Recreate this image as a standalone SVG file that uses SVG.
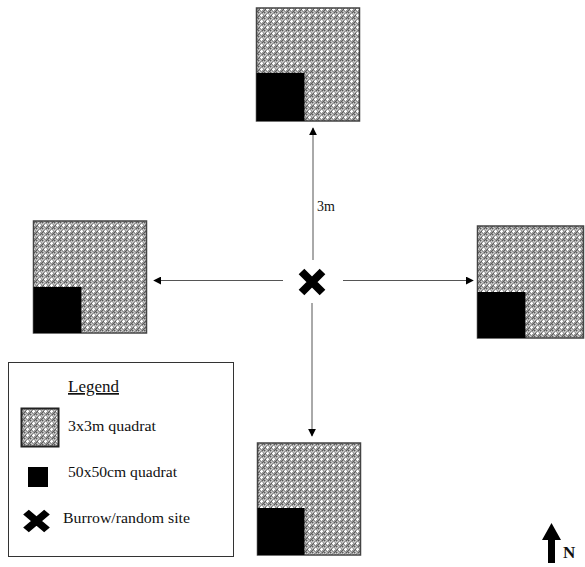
<svg xmlns="http://www.w3.org/2000/svg" width="585" height="567" viewBox="0 0 585 567">
<defs>
<pattern id="dots" width="6" height="6" patternUnits="userSpaceOnUse">
<rect width="6" height="6" fill="#9a9a9a"/>
<rect x="0" y="0" width="1" height="1" fill="#5c5c5c"/>
<rect x="2" y="0" width="1" height="1" fill="#d0d0d0"/>
<rect x="4" y="0" width="1" height="1" fill="#5c5c5c"/>
<rect x="1" y="1" width="1" height="1" fill="#d0d0d0"/>
<rect x="5" y="1" width="1" height="1" fill="#d0d0d0"/>
<rect x="0" y="2" width="1" height="1" fill="#d0d0d0"/>
<rect x="4" y="2" width="1" height="1" fill="#d0d0d0"/>
<rect x="2" y="3" width="3" height="1" fill="#ffffff"/>
<rect x="3" y="2" width="1" height="3" fill="#ffffff"/>
<rect x="1" y="3" width="1" height="1" fill="#5c5c5c"/>
<rect x="0" y="4" width="1" height="1" fill="#5c5c5c"/>
<rect x="1" y="5" width="1" height="1" fill="#d0d0d0"/>
<rect x="5" y="5" width="1" height="1" fill="#5c5c5c"/>
</pattern>
<marker id="ah" viewBox="0 0 10 10" refX="9" refY="5" markerWidth="8" markerHeight="8" markerUnits="userSpaceOnUse" orient="auto">
<path d="M0,0 L10,5 L0,10 Z" fill="#000"/>
</marker>
<g id="xmark">
<path d="M-10.5,-10.5 L10.5,10.5 M10.5,-10.5 L-10.5,10.5" stroke="#000" stroke-width="8" fill="none"/>
</g>
</defs>
<style>
.big{fill:url(#dots);stroke:#444;stroke-width:1.5}
.small{fill:#000}
.conn{stroke:#555;stroke-width:1;fill:none;marker-end:url(#ah)}
text{fill:#111}
</style>
<g id="quadrat-top">
<rect class="big" x="256.5" y="8" width="103" height="113"/>
<rect class="small" x="256.5" y="73" width="48" height="48"/>
</g>
<g id="quadrat-left">
<rect class="big" x="33.5" y="221" width="113" height="112"/>
<rect class="small" x="33.5" y="287" width="48" height="46"/>
</g>
<g id="quadrat-right">
<rect class="big" x="477.5" y="226" width="106" height="112"/>
<rect class="small" x="477.5" y="292" width="48" height="46"/>
</g>
<g id="quadrat-bottom">
<rect class="big" x="257.5" y="443" width="103" height="112"/>
<rect class="small" x="257.5" y="508" width="47" height="47"/>
</g>
<g id="center">
<use href="#xmark" x="312" y="282"/>
</g>
<g id="connectors">
<line class="conn" x1="313" y1="260" x2="313" y2="128"/>
<line class="conn" x1="312" y1="303" x2="312" y2="436"/>
<line class="conn" x1="283" y1="280.5" x2="154" y2="280.5"/>
<line class="conn" x1="343" y1="280.5" x2="473" y2="280.5"/>
</g>
<text x="317" y="211" font-family="'Liberation Serif', 'Times New Roman', serif" font-size="14">3m</text>
<g id="legend" font-family="'Liberation Serif', 'Times New Roman', serif">
<rect x="8.5" y="362.5" width="225" height="194" fill="#fff" stroke="#333" stroke-width="1"/>
<text x="68" y="392" font-size="17" text-decoration="underline">Legend</text>
<rect x="21.5" y="408.5" width="37" height="38" fill="url(#dots)" stroke="#222" stroke-width="2"/>
<text x="68" y="431" font-size="15" textLength="88" lengthAdjust="spacingAndGlyphs">3x3m quadrat</text>
<rect x="28" y="467" width="20" height="20" fill="#000"/>
<text x="68" y="477" font-size="15" textLength="109" lengthAdjust="spacingAndGlyphs">50x50cm quadrat</text>
<use href="#xmark" transform="translate(36.5,521) scale(1,0.85)"/>
<text x="63" y="523" font-size="15" textLength="127" lengthAdjust="spacingAndGlyphs">Burrow/random site</text>
</g>
<g id="north">
<path d="M548,563 L548,540 L542,540 L551.5,523 L561,540 L555,540 L555,563 Z" fill="#000"/>
<text x="563" y="558" font-family="'Liberation Serif', 'Times New Roman', serif" font-size="17" font-weight="bold">N</text>
</g>
</svg>
